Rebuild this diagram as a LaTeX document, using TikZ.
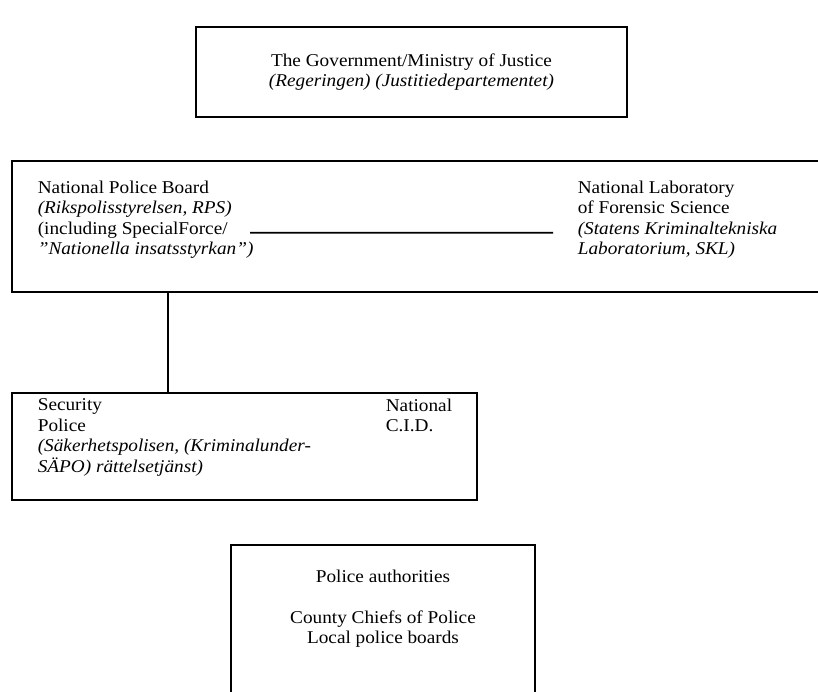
\documentclass[tikz,border=0pt]{standalone}
\usepackage{fontspec}
\setmainfont{Liberation Serif}[FakeStretch=1.07]

\begin{document}
\begin{tikzpicture}[x=1pt,y=-1pt,line width=1.6pt,
  box/.style={draw,inner sep=0pt},
  txt/.style={inner sep=0pt,anchor=north west,align=left,font=\fontsize{18}{20.5}\selectfont}]
  \useasboundingbox (0,0) rectangle (818,691);
  \node[box,minimum width=431pt,minimum height=90pt,align=center,font=\fontsize{18}{20.5}\selectfont] (gov) at (411.5,72)
    {The Government/Ministry of Justice\\\textit{(Regeringen) (Justitiedepartementet)}};
  \node[box,minimum width=828pt,minimum height=131pt] (npbbox) at (426,226.5) {};
  \node[txt] (npb) at (37,180) {National Police Board\\\textit{(Rikspolisstyrelsen, RPS)}\\(including SpecialForce/\\\textit{”Nationella insatsstyrkan”)}};
  \node[txt] (skl) at (577,180) {National Laboratory\\of Forensic Science\\\textit{(Statens Kriminaltekniska}\\\textit{Laboratorium, SKL)}};
  \draw ([xshift=-4pt,yshift=-13pt]npb.east) -- ([xshift=-24pt,yshift=-13pt]skl.west);
  \node[box,minimum width=465pt,minimum height=107pt] (secbox) at (244.5,446.5) {};
  \node[txt] (sapo) at (37,398) {Security\\Police\\\textit{(Säkerhetspolisen, (Kriminalunder-}\\\textit{SÄPO) rättelsetjänst)}};
  \node[txt] (cid) at (385,398) {National\\C.I.D.};
  \coordinate (drop) at (168,0);
  \draw (npbbox.south -| drop) -- (secbox.north -| drop);
  \node[box,minimum width=304pt,minimum height=200pt] (polbox) at (383,645) {};
  \node[inner sep=0pt,anchor=north,align=center,font=\fontsize{18}{20.5}\selectfont] (pol) at (383,569)
    {Police authorities\\[20.5pt]County Chiefs of Police\\Local police boards};
\end{tikzpicture}
\end{document}
